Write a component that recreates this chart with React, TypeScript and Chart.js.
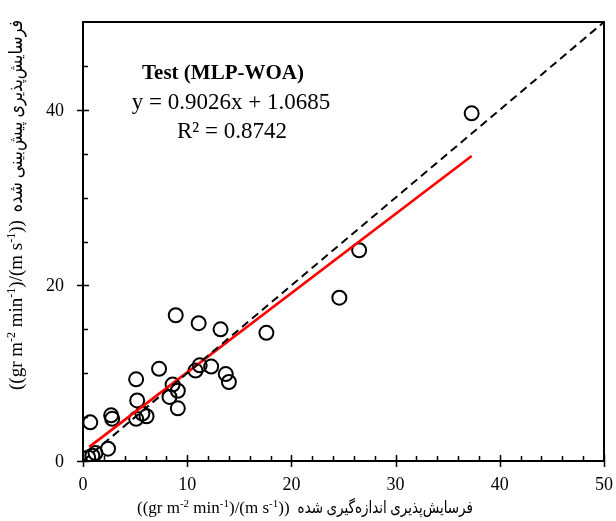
import React, { useEffect, useRef } from "react";
import { Chart, registerables } from "chart.js";

Chart.register(...registerables);

// Observed (x) vs predicted (y) erodibility, test set
const observed = [0.5, 0.9, 1.2, 2.4, 0.7, 2.7, 2.8, 5.1, 5.7, 6.1, 5.2, 5.1, 7.3, 8.3, 8.6, 9.1, 9.1, 8.9, 10.8, 11.2, 11.1, 12.3, 13.2, 13.7, 14.0, 17.6, 24.6, 26.5, 37.3];
const predicted = [0.4, 0.6, 0.9, 1.4, 4.4, 5.2, 4.8, 4.8, 5.4, 5.1, 6.9, 9.3, 10.5, 7.3, 8.7, 8.0, 6.0, 16.6, 10.3, 10.9, 15.7, 10.75, 15.0, 9.9, 9.0, 14.6, 18.6, 24.0, 39.6];

const fitSlope = 0.9026;
const fitIntercept = 1.0685;
const fitRange = [0.6, 37.3];
const identityRange = [0, 50];

const xMajorTicks = [0, 10, 20, 30, 40, 50];
const xMinorTicks = [2, 4, 6, 8, 12, 14, 16, 18, 22, 24, 26, 28, 32, 34, 36, 38, 42, 44, 46, 48];
const yMajorTicks = [0, 20, 40];
const yMinorTicks = [5, 10, 15, 25, 30, 35, 45];

const titleText = "Test (MLP-WOA)";
const eqText = "y = 0.9026x + 1.0685";
const r2Text = "R² = 0.8742";
const xTitlePersian = "فرسایش‌پذیری اندازه‌گیری شده";
const yTitlePersian = "فرسایش‌پذیری پیش‌بینی شده";
const unitParts: { t: string; sup?: boolean }[] = [
  { t: "((gr m" },
  { t: "-2", sup: true },
  { t: " min" },
  { t: "-1", sup: true },
  { t: ")/(m s" },
  { t: "-1", sup: true },
  { t: "))" },
];

const SERIF = '"Liberation Serif", "Times New Roman", "DejaVu Sans", serif';

function drawUnit(ctx: CanvasRenderingContext2D, x: number, y: number, size: number) {
  let cx = x;
  ctx.textAlign = "left";
  ctx.textBaseline = "alphabetic";
  for (const p of unitParts) {
    if (p.sup) {
      ctx.font = `${Math.round(size * 0.65)}px ${SERIF}`;
      ctx.fillText(p.t, cx, y - size * 0.38);
    } else {
      ctx.font = `${size}px ${SERIF}`;
      ctx.fillText(p.t, cx, y);
    }
    cx += ctx.measureText(p.t).width;
  }
  return cx;
}

function drawFitted(ctx: CanvasRenderingContext2D, text: string, x: number, y: number, size: number, width: number) {
  ctx.font = `${size}px ${SERIF}`;
  ctx.textAlign = "left";
  ctx.textBaseline = "alphabetic";
  const w = ctx.measureText(text).width;
  const k = w > 0 ? width / w : 1;
  ctx.save();
  ctx.translate(x, y);
  ctx.scale(k, 1);
  ctx.fillText(text, 0, 0);
  ctx.restore();
}

const decorPlugin = {
  id: "decor",
  afterDraw(chart: any) {
    const ctx: CanvasRenderingContext2D = chart.ctx;
    const { left, right, top, bottom } = chart.chartArea;
    const xs = chart.scales.x;
    const ys = chart.scales.y;
    ctx.save();
    ctx.strokeStyle = "#000";
    ctx.lineWidth = 2;
    ctx.strokeRect(left, top, right - left, bottom - top);
    ctx.lineWidth = 1.5;
    ctx.beginPath();
    for (const v of xMajorTicks) {
      const px = Math.round(xs.getPixelForValue(v)) + 0.5;
      ctx.moveTo(px, bottom - 6);
      ctx.lineTo(px, bottom + 6);
    }
    for (const v of xMinorTicks) {
      const px = Math.round(xs.getPixelForValue(v)) + 0.5;
      ctx.moveTo(px, bottom);
      ctx.lineTo(px, bottom - 5);
    }
    for (const v of yMajorTicks) {
      const py = Math.round(ys.getPixelForValue(v)) + 0.5;
      ctx.moveTo(left - 6, py);
      ctx.lineTo(left + 6, py);
    }
    for (const v of yMinorTicks) {
      const py = Math.round(ys.getPixelForValue(v)) + 0.5;
      ctx.moveTo(left, py);
      ctx.lineTo(left + 5, py);
    }
    ctx.stroke();

    // tick labels
    ctx.fillStyle = "#000";
    ctx.font = `18px ${SERIF}`;
    ctx.textAlign = "center";
    ctx.textBaseline = "middle";
    for (const v of xMajorTicks) {
      ctx.fillText(String(v), xs.getPixelForValue(v), bottom + 24);
    }
    ctx.textAlign = "right";
    for (const v of yMajorTicks) {
      ctx.fillText(String(v), left - 19, ys.getPixelForValue(v) + 1);
    }

    // annotation
    ctx.textAlign = "center";
    ctx.textBaseline = "alphabetic";
    ctx.font = `bold 21px ${SERIF}`;
    ctx.fillText(titleText, 223, 79);
    ctx.font = `23px ${SERIF}`;
    ctx.fillText(eqText, 231, 109);
    ctx.fillText(r2Text, 232, 138);

    // x title
    const xEnd = drawUnit(ctx, 137, 513, 17);
    drawFitted(ctx, xTitlePersian, xEnd + 8, 513, 17, 473 - (xEnd + 8));

    // y title (rotated)
    ctx.save();
    ctx.translate(22, 390);
    ctx.rotate(-Math.PI / 2);
    const yEnd = drawUnit(ctx, 0, 0, 19);
    drawFitted(ctx, yTitlePersian, yEnd + 8, 0, 19, 370 - (yEnd + 8));
    ctx.restore();

    ctx.restore();
  },
};

export default function App() {
  const ref = useRef<HTMLCanvasElement | null>(null);
  useEffect(() => {
    if (!ref.current) return;
    const points = observed.map((x, i) => ({ x, y: predicted[i] }));
    const fit = fitRange.map((x) => ({ x, y: fitSlope * x + fitIntercept }));
    const ident = identityRange.map((x) => ({ x, y: x }));
    const chart = new Chart(ref.current, {
      type: "scatter",
      data: {
        datasets: [
          {
            type: "line",
            data: ident,
            borderColor: "#000",
            borderWidth: 2,
            borderDash: [8, 5],
            pointRadius: 0,
            fill: false,
          } as any,
          {
            type: "line",
            data: fit,
            borderColor: "#ff0000",
            borderWidth: 2.6,
            pointRadius: 0,
            fill: false,
          } as any,
          {
            data: points,
            pointRadius: 7,
            pointHoverRadius: 7,
            pointBorderWidth: 2,
            borderColor: "#000",
            backgroundColor: "rgba(0,0,0,0)",
            pointBackgroundColor: "rgba(0,0,0,0)",
            pointBorderColor: "#000",
          } as any,
        ],
      },
      options: {
        animation: false,
        responsive: true,
        maintainAspectRatio: false,
        layout: { padding: { top: 22, right: 12, left: 0, bottom: 0 } },
        plugins: { legend: { display: false }, tooltip: { enabled: false } },
        scales: {
          x: {
            type: "linear",
            min: 0,
            max: 50,
            grid: { display: false },
            border: { display: false },
            ticks: { display: false },
            afterFit: (s: any) => {
              s.height = 60;
            },
          },
          y: {
            type: "linear",
            min: 0,
            max: 50,
            grid: { display: false },
            border: { display: false },
            ticks: { display: false },
            afterFit: (s: any) => {
              s.width = 83;
            },
          },
        },
      },
      plugins: [decorPlugin],
    });
    return () => chart.destroy();
  }, []);
  return (
    <div style={{ position: "fixed", left: 0, top: 0, width: 616, height: 521, background: "#fff" }}>
      <canvas ref={ref} />
    </div>
  );
}
